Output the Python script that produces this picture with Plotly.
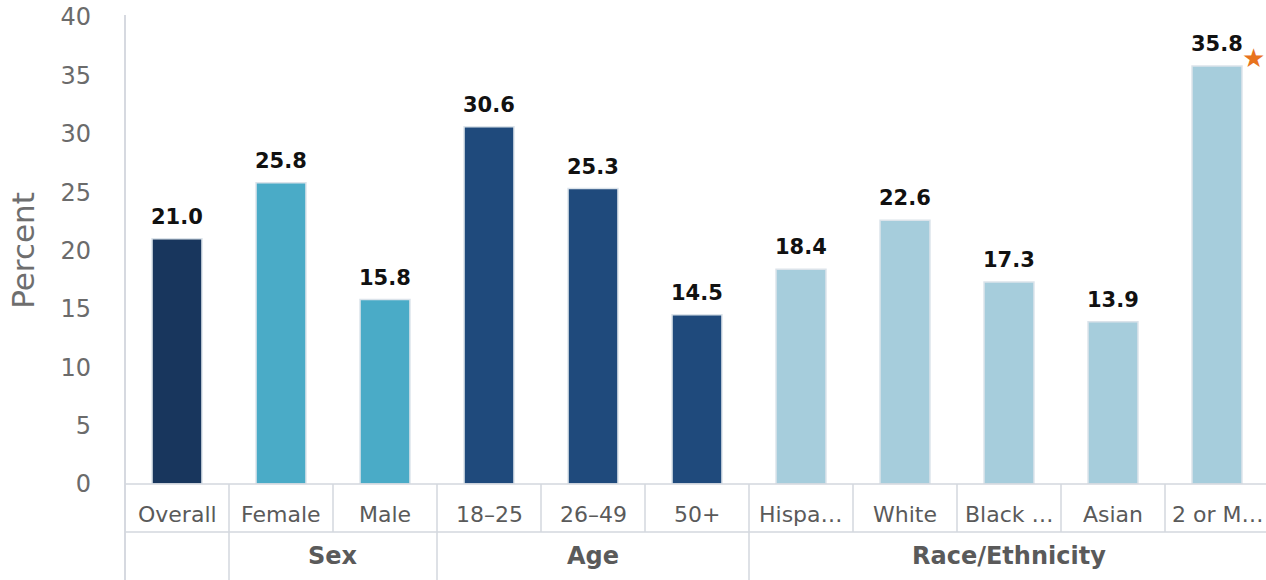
import plotly.graph_objects as go

categories = ["Overall", "Female", "Male", "18–25", "26–49", "50+",
              "Hispa…", "White", "Black …", "Asian", "2 or M…"]
values = [21.0, 25.8, 15.8, 30.6, 25.3, 14.5, 18.4, 22.6, 17.3, 13.9, 35.8]
bar_colors = ["#18365d", "#4aabc7", "#4aabc7", "#1f4a7c", "#1f4a7c", "#1f4a7c",
              "#a6cddc", "#a6cddc", "#a6cddc", "#a6cddc", "#a6cddc"]
groups = [("Sex", 1, 2), ("Age", 3, 5), ("Race/Ethnicity", 6, 10)]
y_ticks = [0, 5, 10, 15, 20, 25, 30, 35, 40]
star_index = 10

W, H = 1266, 580
ML, MR, MT, MB = 125, 0, 17, 96
plot_w = W - ML - MR
plot_h = H - MT - MB
n = len(categories)
col_px = 104.0
x0 = -0.5
x1 = x0 + plot_w / col_px
row_px = 48.0

FONT = "DejaVu Sans"
GRID = "#d3d7de"
TXT = "#5a5a5a"

fig = go.Figure()
fig.add_trace(go.Bar(
    x=categories, y=values,
    marker=dict(color=bar_colors, line=dict(color="#dbe3ea", width=1.5)),
    width=0.48, hoverinfo="skip",
))

def px(xdata):
    return (xdata - x0) / (x1 - x0)

def py(pix_below):
    return -pix_below / plot_h

shapes = []
shapes.append(dict(type="line", xref="paper", yref="paper", x0=0, x1=0,
                   y0=py(MB), y1=1 + 2 / plot_h, line=dict(color="#c9cdd6", width=1.5)))
for yy in [0, row_px]:
    shapes.append(dict(type="line", xref="paper", yref="paper", x0=0, x1=1,
                       y0=py(yy), y1=py(yy), line=dict(color=GRID, width=1.5)))
for i in range(1, n + 1):
    b = i - 0.5
    if px(b) <= 1.0:
        shapes.append(dict(type="line", xref="paper", yref="paper", x0=px(b), x1=px(b),
                           y0=py(0), y1=py(row_px), line=dict(color=GRID, width=1.5)))
for name, a, b in groups:
    xb = a - 0.5
    shapes.append(dict(type="line", xref="paper", yref="paper", x0=px(xb), x1=px(xb),
                       y0=py(row_px), y1=py(MB), line=dict(color=GRID, width=1.5)))

annotations = []
for c, v in zip(categories, values):
    annotations.append(dict(x=c, y=v, xref="x", yref="y", text=f"<b>{v:.1f}</b>",
                            showarrow=False, yanchor="bottom", yshift=8,
                            font=dict(family=FONT, size=21, color="#111111")))
    annotations.append(dict(x=c, y=0, xref="x", yref="paper", text=c,
                            showarrow=False, yanchor="middle", yshift=-30,
                            font=dict(family=FONT, size=22, color=TXT)))
for name, a, b in groups:
    annotations.append(dict(x=(a + b) / 2, y=0, xref="x", yref="paper", text=f"<b>{name}</b>",
                            showarrow=False, yanchor="middle", yshift=-72,
                            font=dict(family=FONT, size=24, color=TXT)))
annotations.append(dict(x=categories[star_index], y=values[star_index], xref="x", yref="y",
                        text="★", showarrow=False, xshift=36, yshift=8,
                        font=dict(family=FONT, size=26, color="#e8731e")))

fig.update_layout(
    width=W, height=H,
    margin=dict(l=ML, r=MR, t=MT, b=MB),
    paper_bgcolor="white", plot_bgcolor="white",
    showlegend=False,
    xaxis=dict(type="category", range=[x0, x1], showticklabels=False, showgrid=False,
               zeroline=False, showline=False, ticks="", fixedrange=True),
    yaxis=dict(range=[0, 40], tickvals=y_ticks, showgrid=False, zeroline=False,
               showline=False, ticks="", ticklabelstandoff=33,
               tickfont=dict(family=FONT, size=24, color="#6b6b6b"),
               title=dict(text="Percent", standoff=16,
                          font=dict(family=FONT, size=31, color="#6e6e6e"))),
    shapes=shapes, annotations=annotations,
)

fig.write_html("out.html")
